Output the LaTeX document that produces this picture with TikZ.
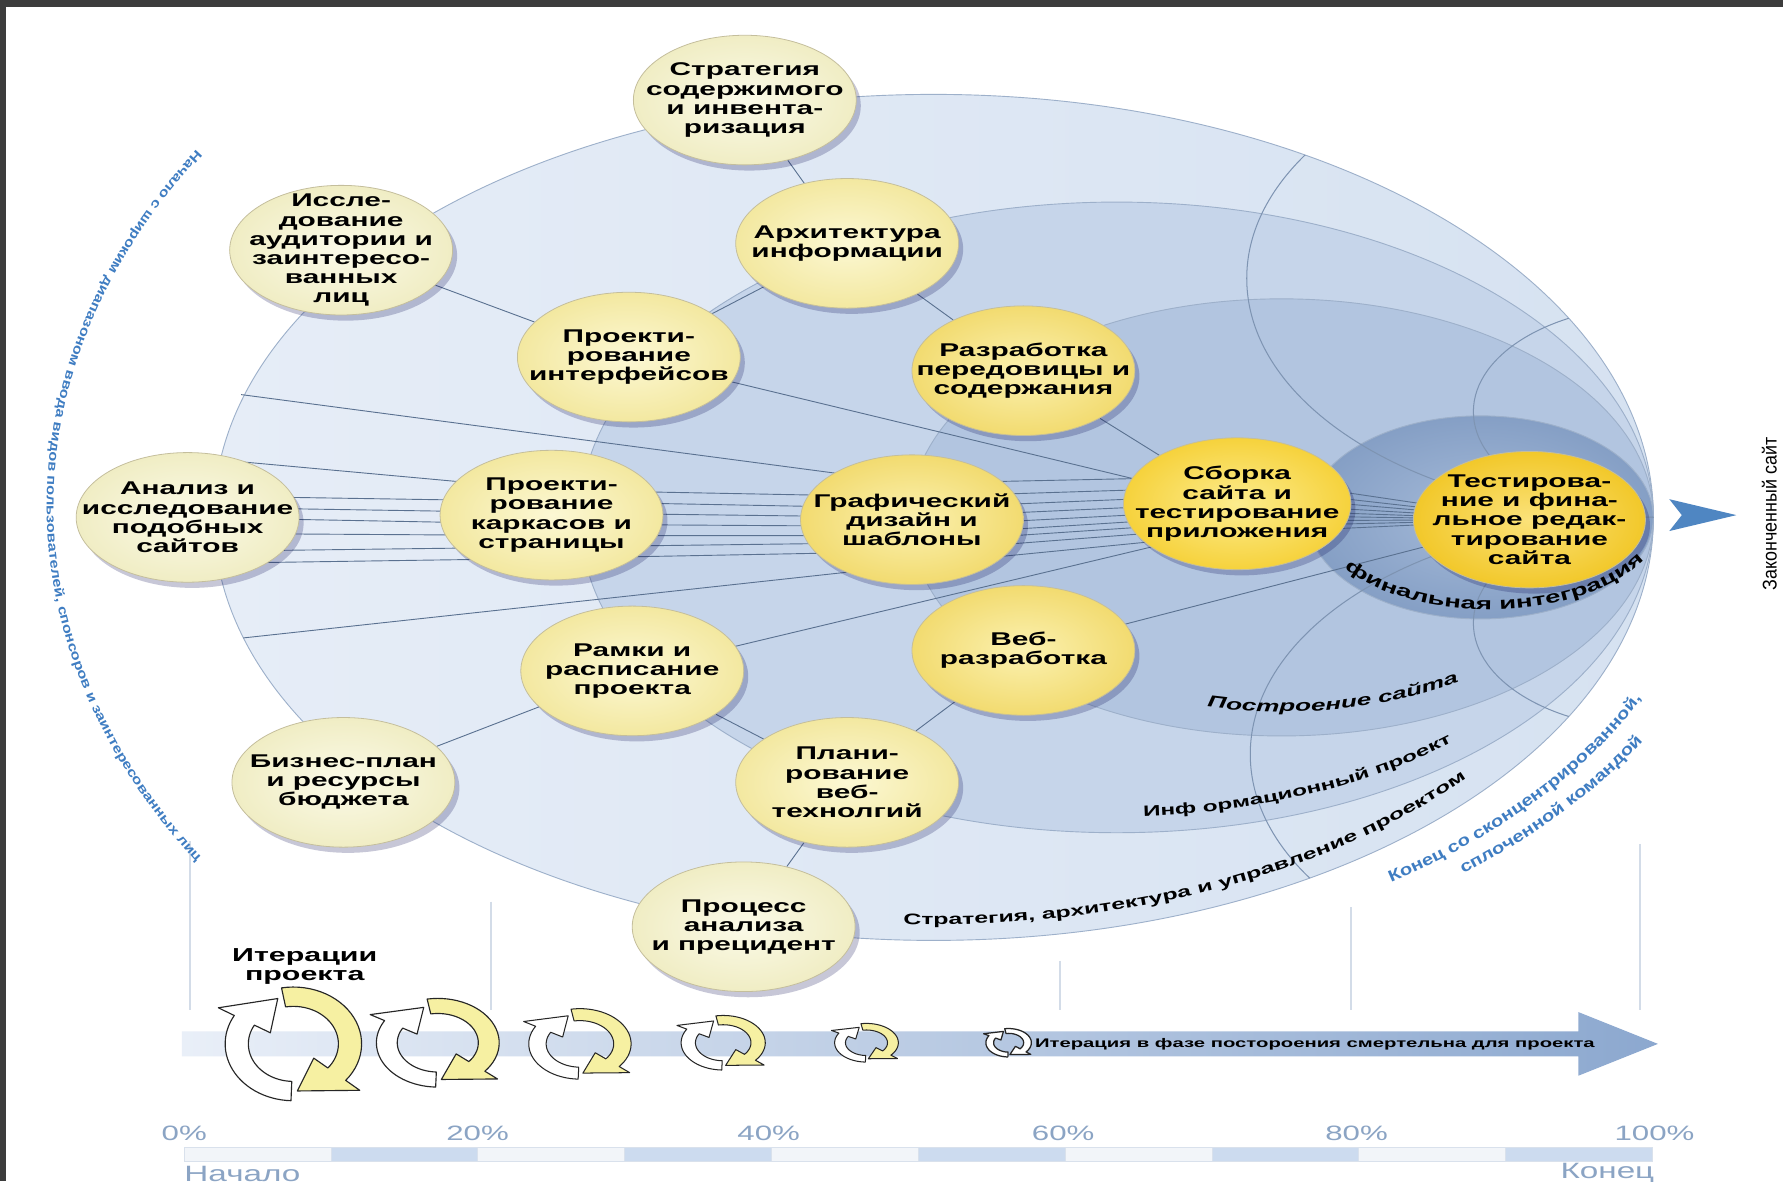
\documentclass[tikz,border=0pt]{standalone}
\usepackage{fontspec}
\setmainfont{Liberation Sans}
\newfontfamily\sbf{Liberation Sans}[FakeStretch=1.62]
\newfontfamily\sreg{Liberation Sans}[FakeStretch=1.5]
\newfontfamily\snar{Liberation Sans}[FakeStretch=0.9]
\newfontfamily\sblu{Liberation Sans}[FakeStretch=1.25]
\usetikzlibrary{shapes.geometric,shadows,decorations.text}

\definecolor{frame}{HTML}{3C3C3C}
\definecolor{bandA}{HTML}{D6E2F1}
\definecolor{bandAl}{HTML}{E6EDF7}
\definecolor{bandB}{HTML}{C6D5EA}
\definecolor{bandC}{HTML}{B2C5E0}
\definecolor{bandD}{HTML}{A6BBD9}
\definecolor{bandDr}{HTML}{859FC5}
\definecolor{bandedgec}{HTML}{9DB0CA}
\definecolor{smithc}{HTML}{7E94B2}
\definecolor{connc}{HTML}{5A7190}
\definecolor{textblue}{HTML}{3F7DC2}
\definecolor{pctblue}{HTML}{8BA4C4}
\definecolor{bubedge}{HTML}{C4BE9C}
\definecolor{paleI}{HTML}{FBFAE8}
\definecolor{paleO}{HTML}{F0EDC4}
\definecolor{liteI}{HTML}{FCF8D4}
\definecolor{liteO}{HTML}{F3E8A0}
\definecolor{midI}{HTML}{FBF1B0}
\definecolor{midO}{HTML}{F2DB70}
\definecolor{strI}{HTML}{FCEC8E}
\definecolor{strO}{HTML}{F6D23C}
\definecolor{tstI}{HTML}{FBE27A}
\definecolor{tstO}{HTML}{F2C82A}
\definecolor{vlinec}{HTML}{D3DCE8}
\definecolor{arrL}{HTML}{E9EFF8}
\definecolor{arrR}{HTML}{8CA8CF}
\definecolor{barW}{HTML}{F2F5F9}
\definecolor{barB}{HTML}{CCDBEF}
\definecolor{barE}{HTML}{D9E1EC}
\definecolor{iconY}{HTML}{F6F0A2}
\definecolor{finarrow}{HTML}{4F86C2}

\newcommand\bubfont{\sbf\bfseries\fontsize{16.2}{16.8}\selectfont}
\newcommand\bandfa{\sbf\bfseries\fontsize{13.5}{15}\selectfont}
\newcommand\bandfb{\sbf\bfseries\fontsize{13.2}{15}\selectfont}
\newcommand\bandfc{\sbf\bfseries\itshape\fontsize{14.2}{16}\selectfont}
\newcommand\bandfd{\sbf\bfseries\fontsize{15}{16}\selectfont}
\newcommand\bluefa{\sblu\bfseries\fontsize{11.4}{12}\selectfont\color{textblue}}
\newcommand\bluefb{\sblu\bfseries\fontsize{14.2}{15}\selectfont\color{textblue}}

\pgfdeclarelayer{back}
\pgfdeclarelayer{mid}
\pgfsetlayers{back,mid,main}

% circular iteration icon: x, y, rx, ry, fill of left arrow, fill of right arrow, line width
\newcommand\cycicon[7]{%
 \begin{scope}[shift={(#1,#2)},x=#3pt,y=#4pt,line width=#7pt]
 \draw[draw=black!85,fill=#5,line join=round] plot[domain=0:1,samples=30] ({cos(268-118*\x)},{sin(268-118*\x)})
   -- (150:1.27) -- (106:0.83) -- (150:0.39)
   -- plot[domain=0:1,samples=30] ({0.66*cos(150+118*\x)},{0.66*sin(150+118*\x)}) -- cycle;
 \draw[draw=black!85,fill=#6,line join=round] plot[domain=0:1,samples=30] ({cos(100-140*\x)},{sin(100-140*\x)})
   -- (-40:1.27) -- (-86:0.83) -- (-40:0.39)
   -- plot[domain=0:1,samples=30] ({0.66*cos(-40+140*\x)},{0.66*sin(-40+140*\x)}) -- cycle;
 \end{scope}}

\begin{document}
\begin{tikzpicture}[x=1pt,y=-1pt,
  bubble/.style={ellipse, minimum width=196pt, minimum height=114pt, inner sep=0pt,
     draw=bubedge, line width=0.7pt,
     drop shadow={shadow xshift=4pt, shadow yshift=-5pt, opacity=0.22, fill=black!70!blue}},
  pale/.style={bubble, inner color=paleI, outer color=paleO},
  lite/.style={bubble, inner color=liteI, outer color=liteO},
  midb/.style={bubble, inner color=midI, outer color=midO},
  strong/.style={bubble, inner color=strI, outer color=strO},
  tst/.style={bubble, inner color=tstI, outer color=tstO},
  lbl/.style={font=\bubfont, align=center, inner sep=0pt, text=black},
  conn/.style={draw=connc, line width=0.8pt},
  bedge/.style={draw=bandedgec, line width=0.8pt},
  smith/.style={draw=smithc, line width=0.9pt},
  pct/.style={font=\sreg\fontsize{18.3}{20}\selectfont, text=pctblue, inner sep=0pt},
]
\useasboundingbox (0,0) rectangle (1568,1039);

\begin{pgfonlayer}{back}
\fill[white] (0,0) rectangle (1568,1039);
% nested bands, all touching at the right point
\path[left color=bandAl, right color=bandA, bedge] (821,455) ellipse [x radius=633pt, y radius=372pt];
\path[fill=bandB, bedge] (982.1,455) ellipse [x radius=471.9pt, y radius=277.3pt];
\path[fill=bandC, bedge] (1127,455) ellipse [x radius=327pt, y radius=192.2pt];
\path[inner color=bandD, outer color=bandDr, bedge] (1302,455) ellipse [x radius=151.9pt, y radius=89.3pt];
% arcs crossing the bands
\begin{scope}
\clip (821,455) ellipse [x radius=633pt, y radius=372pt];
\draw[smith] (1454,244.8) ellipse [x radius=357.6pt, y radius=210.2pt];
\draw[smith] (1454,663.3) ellipse [x radius=354.5pt, y radius=208.3pt];
\draw[smith] (1454,362) ellipse [x radius=158.3pt, y radius=93pt];
\draw[smith] (1454,548) ellipse [x radius=158.3pt, y radius=93pt];
\end{scope}
% bottom guide lines
\foreach \vx/\vy in {167/740, 432/793, 932/845, 1188/798, 1442/742}
  \draw[vlinec, line width=2pt] (\vx,\vy) -- (\vx,888);
\end{pgfonlayer}

% bubbles
\node[pale]  (strat)  at (655,88)  {};
\node[pale]  (issl)   at (300,220) {};
\node[lite]  (arch)   at (745,214) {};
\node[lite]  (proint) at (553,314) {};
\node[midb]  (razr)   at (900,326) {};
\node[pale]  (analiz) at (165,455) {};
\node[lite]  (karkas) at (485,453) {};
\node[midb]  (grafik) at (802,457) {};
\node[strong, minimum width=200pt, minimum height=116pt] (sborka) at (1088,443) {};
\node[tst, minimum width=204pt, minimum height=120pt] (test) at (1345,457) {};
\node[lite]  (ramki)  at (556,590) {};
\node[midb]  (web)    at (900,572) {};
\node[pale]  (biz)    at (302,688) {};
\node[lite]  (plan)   at (745,688) {};
\node[pale]  (proc)   at (654,815) {};

\node[lbl] (strat-t)  at (strat)  {Стратегия\\содержимого\\и инвента-\\ризация};
\node[lbl] (issl-t)   at (issl)   {Иссле-\\дование\\аудитории и\\заинтересо-\\ванных\\лиц};
\node[lbl] (arch-t)   at (arch)   {Архитектура\\информации};
\node[lbl] (proint-t) at (proint) {Проекти-\\рование\\интерфейсов};
\node[lbl] (razr-t)   at (razr)   {Разработка\\передовицы и\\содержания};
\node[lbl] (analiz-t) at (analiz) {Анализ и\\исследование\\подобных\\сайтов};
\node[lbl] (karkas-t) at (karkas) {Проекти-\\рование\\каркасов и\\страницы};
\node[lbl] (grafik-t) at (grafik) {Графический\\дизайн и\\шаблоны};
\node[lbl] (sborka-t) at (sborka) {Сборка\\сайта и\\тестирование\\приложения};
\node[lbl] (test-t)   at (test)   {Тестирова-\\ние и фина-\\льное редак-\\тирование\\сайта};
\node[lbl] (ramki-t)  at (ramki)  {Рамки и\\расписание\\проекта};
\node[lbl] (web-t)    at (web)    {Веб-\\разработка};
\node[lbl] (biz-t)    at (biz)    {Бизнес-план\\и ресурсы\\бюджета};
\node[lbl] (plan-t)   at (plan)   {Плани-\\рование\\веб-\\технолгий};
\node[lbl] (proc-t)   at (proc)   {Процесс\\анализа\\и прецидент};

% free ends of the bundle on the left rim
\coordinate (L1) at (212,347);
\coordinate (L2) at (211,406);
\coordinate (L3) at (210,495);
\coordinate (L4) at (214,561);

\begin{pgfonlayer}{mid}
\draw[conn] (strat) -- (arch);
\draw[conn] (arch) -- (proint);
\draw[conn] (arch) -- (razr);
\draw[conn] (issl) -- (proint);
\draw[conn] (proint.center) -- (sborka.center);
\draw[conn] (razr) -- (sborka);
\draw[conn] (ramki.center) -- ([yshift=-20pt]sborka.center);
\draw[conn] (web.center) -- (test.center);
\draw[conn] (web) -- (plan);
\draw[conn] (plan) -- (proc);
\draw[conn] (ramki) -- (biz);
\draw[conn] (ramki) -- (plan);
% bundle converging on the final steps
\draw[conn] (L1) -- ([yshift=32pt]grafik.center) -- ([yshift=24pt]sborka.center) -- (test.center);
\draw[conn] (L2) -- ([yshift=22pt]karkas.center) -- ([yshift=20pt]grafik.center) -- ([yshift=15pt]sborka.center) -- (test.center);
\draw[conn] ([yshift=19pt]analiz.center) -- ([yshift=12pt]karkas.center) -- ([yshift=10pt]grafik.center) -- ([yshift=8pt]sborka.center) -- (test.center);
\draw[conn] ([yshift=9pt]analiz.center) -- ([yshift=2pt]karkas.center) -- ([yshift=2pt]grafik.center) -- ([yshift=1pt]sborka.center) -- (test.center);
\draw[conn] (analiz.center) -- ([yshift=-8pt]karkas.center) -- ([yshift=-6pt]grafik.center) -- ([yshift=-5pt]sborka.center) -- (test.center);
\draw[conn] ([yshift=-14pt]analiz.center) -- ([yshift=-18pt]karkas.center) -- ([yshift=-14pt]grafik.center) -- ([yshift=-10pt]sborka.center) -- (test.center);
\draw[conn] ([yshift=-30pt]analiz.center) -- ([yshift=-28pt]karkas.center) -- ([yshift=-20pt]grafik.center) -- ([yshift=-15pt]sborka.center) -- (test.center);
\draw[conn] (L3) -- ([yshift=-38pt]karkas.center) -- ([yshift=-28pt]grafik.center) -- ([yshift=-20pt]sborka.center) -- (test.center);
\draw[conn] (L4) -- ([yshift=-40pt]grafik.center) -- ([yshift=-26pt]sborka.center) -- (test.center);
\end{pgfonlayer}

% band labels
\path[decorate, decoration={text along path, text align=left,
  text={|\bandfa|Стратегия, архитектура и управление проектом}}]
  plot[domain=0:62, samples=80] ({821+610*cos(92.5-\x)},{455+358*sin(92.5-\x)});
\path[decorate, decoration={text along path, text align=left,
  text={|\bandfb|Инф ормационный проект}}]
  plot[domain=0:60, samples=80] ({982+448*cos(87-\x)},{455+263*sin(87-\x)});
\path[decorate, decoration={text along path, text align=left,
  text={|\bandfc|Построение сайта}}]
  plot[domain=0:60, samples=80] ({1127+291*cos(103-\x)},{455+171*sin(103-\x)});
\path[decorate, decoration={text along path, text align=center,
  text={|\bandfd|финальная интеграция}}]
  plot[domain=0:143, samples=100] ({1310+153*cos(158-\x)},{455+81*sin(158-\x)});

% blue side texts
\path[decorate, decoration={text along path, text align=center,
  text={|\bluefa|Начало с широким диапазоном ввода видов пользователей, спонсоров и заинтересованных лиц}}]
  plot[domain=0:74, samples=100] ({820+779*cos(217-\x)},{445+563*sin(217-\x)});
\path[decorate, decoration={text along path, text align=center,
  text={|\bluefb|Конец со сконцентрированной,}}]
  plot[domain=0:38, samples=60] ({821+679*cos(57-\x)},{455+399*sin(57-\x)});
\path[decorate, decoration={text along path, text align=center,
  text={|\bluefb|сплоченной командой}}]
  plot[domain=0:30, samples=60] ({821+708*cos(53-\x)},{455+416*sin(53-\x)});

% finished site
\fill[finarrow] (1468,439) -- (1527,453) -- (1468,467) -- (1479,453) -- cycle;
\node[rotate=90, font=\snar\fontsize{17.5}{19}\selectfont, inner sep=0pt] (done) at (1556,452) {Законченный сайт};

% iterations
\node[font=\sbf\bfseries\fontsize{16.5}{17}\selectfont, align=center, inner sep=0pt] (iter) at (268,850) {Итерации\\проекта};
\path[left color=arrL, right color=arrR] (160,907) -- (1388,907) -- (1388,890) -- (1458,918) -- (1388,946) -- (1388,929) -- (160,929) -- cycle;
\cycicon{258}{918}{60}{50}{white}{iconY}{1.0}
\cycicon{385}{917}{54}{39}{white}{iconY}{1.0}
\cycicon{510}{918}{45}{31}{white}{iconY}{0.9}
\cycicon{636}{917}{37}{24}{white}{iconY}{0.9}
\cycicon{762}{917}{28}{17}{white}{iconY}{0.9}
\cycicon{887}{917}{20}{12.5}{white}{white}{1.1}
\node[anchor=west, font=\sbf\bfseries\fontsize{11}{12}\selectfont, inner sep=0pt] (deadly) at (910,918) {Итерация в фазе постороения смертельна для проекта};

% scale
\foreach \i in {0,...,9}{
  \pgfmathtruncatemacro\odd{mod(\i,2)}
  \ifnum\odd=0 \def\bc{barW}\else\def\bc{barB}\fi
  \path[fill=\bc, draw=barE, line width=0.6pt] ({162+129.1*\i},1009) rectangle ({162+129.1*(\i+1)},1021);
}
\node[pct] (p0)   at (162,997)  {0\%};
\node[pct] (p20)  at (420,997)  {20\%};
\node[pct] (p40)  at (676,997)  {40\%};
\node[pct] (p60)  at (935,997)  {60\%};
\node[pct] (p80)  at (1193,997) {80\%};
\node[pct] (p100) at (1455,997) {100\%};
\node[anchor=west, font=\sreg\fontsize{19.5}{21}\selectfont, text=pctblue, inner sep=0pt] (start) at (162,1032) {Начало};
\node[anchor=east, font=\sreg\fontsize{19.5}{21}\selectfont, text=pctblue, inner sep=0pt] (end) at (1455,1032) {Конец};

% frame
\fill[frame] (0,0) rectangle (1568,6);
\fill[frame] (0,0) rectangle (5,1039);
\end{tikzpicture}
\end{document}
